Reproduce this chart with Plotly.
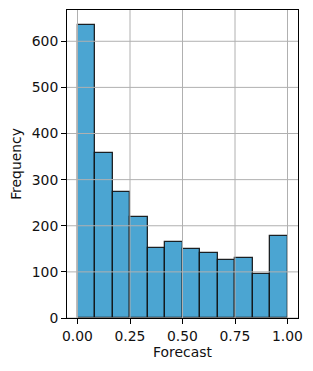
import numpy as np
import plotly.graph_objects as go

counts = [636, 357, 273, 218, 151, 164, 149, 140, 125, 131, 96, 178]
bin_edges = np.linspace(0.0, 1.0, len(counts) + 1)
x_ticks = [0.0, 0.25, 0.5, 0.75, 1.0]
x_tick_labels = ["0.00", "0.25", "0.50", "0.75", "1.00"]
y_ticks = [0, 100, 200, 300, 400, 500, 600]

centers = (bin_edges[:-1] + bin_edges[1:]) / 2
widths = np.diff(bin_edges)

fig = go.Figure()
fig.add_trace(go.Bar(
    x=centers, y=counts, width=widths,
    marker=dict(color="#4BA5D2", line=dict(color="rgba(15,15,15,0.9)", width=1.3)),
    hoverinfo="skip",
))

ymax = max(counts) * 1.05
grid_col = "#b0b0b0"
shapes = []
for t in x_ticks:
    shapes.append(dict(type="line", xref="x", yref="paper", x0=t, x1=t, y0=0, y1=1,
                       line=dict(color=grid_col, width=1), layer="above"))
for t in y_ticks:
    shapes.append(dict(type="line", xref="paper", yref="y", x0=0, x1=1, y0=t, y1=t,
                       line=dict(color=grid_col, width=1), layer="above"))

font = dict(family="DejaVu Sans", size=13.9, color="#111")
fig.update_layout(
    width=313, height=371,
    margin=dict(l=67, r=15, t=10, b=53, autoexpand=False),
    paper_bgcolor="white", plot_bgcolor="white",
    showlegend=False,
    bargap=0,
    font=font,
    shapes=shapes,
    xaxis=dict(range=[-0.05, 1.05], tickvals=x_ticks, ticktext=x_tick_labels,
               showgrid=False, zeroline=False, showline=True, linecolor="black",
               linewidth=1, mirror=True, ticks="outside", ticklen=5, tickcolor="black",
               automargin=False,
               title=dict(text="Forecast", font=font, standoff=4)),
    yaxis=dict(range=[0, ymax], tickvals=y_ticks,
               showgrid=False, zeroline=False, showline=True, linecolor="black",
               linewidth=1, mirror=True, ticks="outside", ticklen=5, tickcolor="black",
               automargin=False,
               title=dict(text="Frequency", font=font, standoff=6)),
)

fig.write_html("out.html", config={"displayModeBar": False},
               post_script="document.body.style.margin='0px';document.body.style.overflow='hidden';")
